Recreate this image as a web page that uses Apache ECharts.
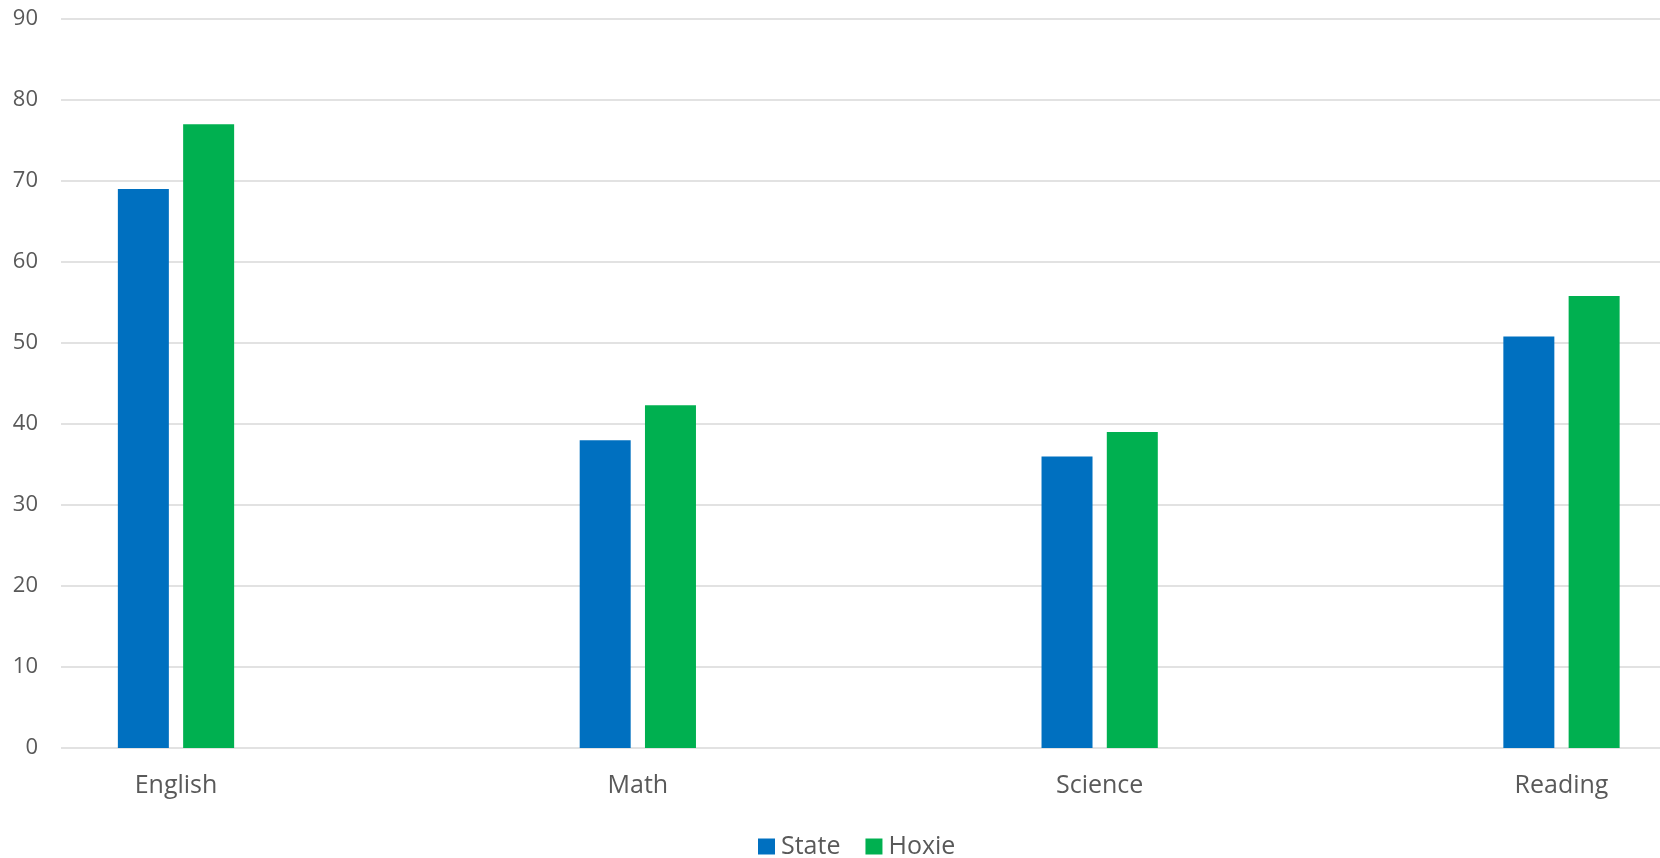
<!DOCTYPE html>
<html>
<head>
<meta charset="utf-8">
<script src="https://cdn.jsdelivr.net/npm/echarts@6/dist/echarts.min.js"></script>
<style>
  html, body { margin: 0; padding: 0; background: #ffffff; }
  #chart { width: 1660px; height: 858px; }
</style>
</head>
<body>
<div id="chart"></div>
<script>
const categories = ['English', 'Math', 'Science', 'Reading'];
const stateValues = [69, 38, 36, 50.8];
const hoxieValues = [77, 42.3, 39, 55.8];
const yTicks = { min: 0, max: 90, interval: 10 };

const FONT = '"Open Sans", "Noto Sans", sans-serif';
const TEXT = '#595959';
const GRID = '#d9d9d9';

// category positions: first category centre at 176px, spacing ~461.8px across a 1660px-wide grid
const CAT_SPACING = 461.83;
const X_MIN = -176 / CAT_SPACING;
const X_MAX = X_MIN + 1660 / CAT_SPACING;
const catIdx = categories.map((c, i) => i);

const chart = echarts.init(document.getElementById('chart'), null, { renderer: 'canvas' });
chart.setOption({
  animation: false,
  backgroundColor: '#ffffff',
  color: ['#0070C0', '#00B050'],
  legend: {
    data: ['State', 'Hoxie'],
    left: 758,
    top: 834,
    padding: 0,
    itemWidth: 17,
    itemHeight: 16,
    itemGap: 25,
    icon: 'rect',
    textStyle: { fontFamily: FONT, fontSize: 25, color: TEXT, padding: [0, 0, 0, 1] }
  },
  grid: [
    { left: 61, right: 0, top: 19, bottom: 110 },
    { left: 0, right: 0, top: 19, bottom: 110 }
  ],
  xAxis: [
    { type: 'value', gridIndex: 0, show: false, min: 0, max: 1 },
    {
      type: 'value', gridIndex: 1, min: X_MIN, max: X_MAX,
      axisLine: { show: false }, axisTick: { show: false }, splitLine: { show: false },
      axisLabel: {
        customValues: catIdx,
        formatter: v => categories[Math.round(v)],
        fontFamily: FONT, fontSize: 25, color: TEXT, margin: 25
      }
    }
  ],
  yAxis: [
    {
      type: 'value', gridIndex: 0, min: yTicks.min, max: yTicks.max, interval: yTicks.interval,
      axisLine: { show: false }, axisTick: { show: false },
      axisLabel: { fontFamily: FONT, fontSize: 22, color: TEXT, margin: 23 },
      splitLine: { lineStyle: { color: GRID, width: 1.5 } }
    },
    { type: 'value', gridIndex: 1, min: yTicks.min, max: yTicks.max, show: false, splitLine: { show: false } }
  ],
  series: [
    { name: 'State', type: 'bar', xAxisIndex: 1, yAxisIndex: 1, data: stateValues.map((v, i) => [catIdx[i], v]), barWidth: 51, barGap: '28%' },
    { name: 'Hoxie', type: 'bar', xAxisIndex: 1, yAxisIndex: 1, data: hoxieValues.map((v, i) => [catIdx[i], v]), barWidth: 51, barGap: '28%' }
  ]
});
</script>
</body>
</html>
